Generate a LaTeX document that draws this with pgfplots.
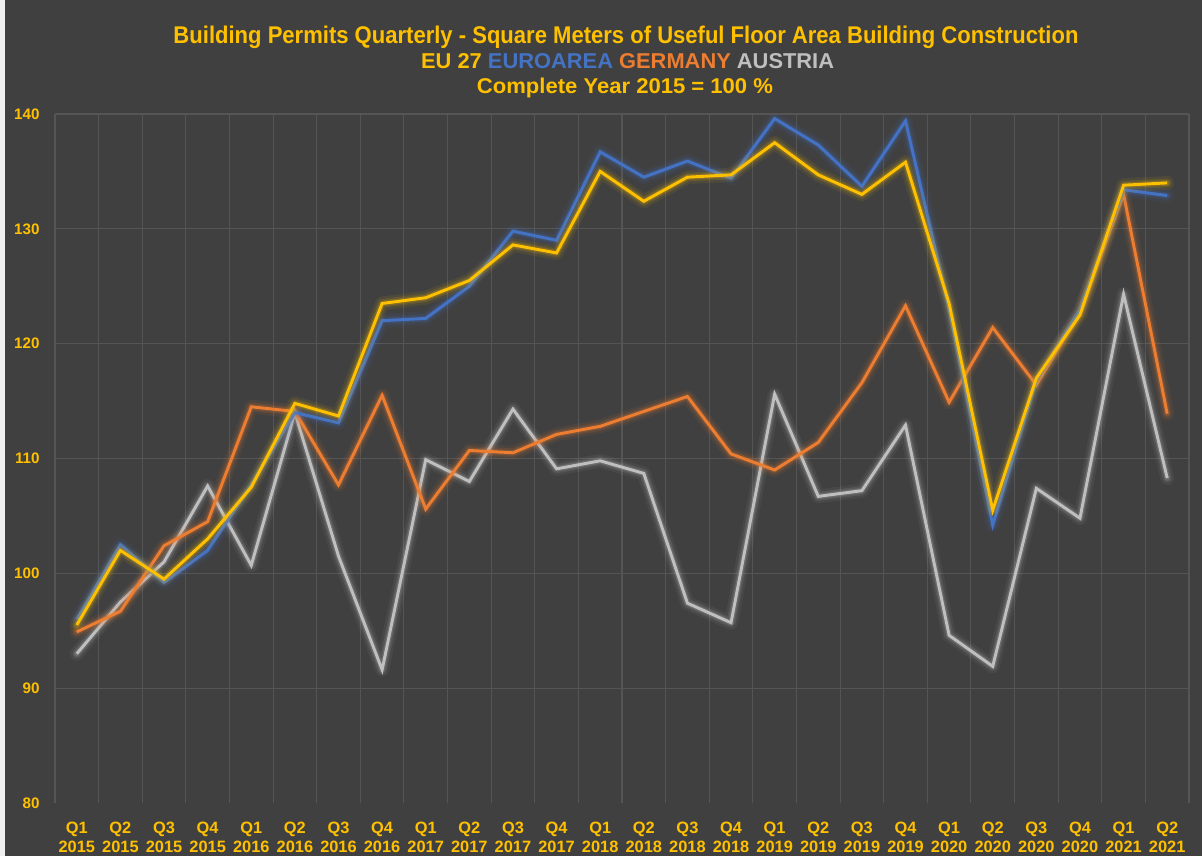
\documentclass[border=0pt]{standalone}
\usepackage{fontspec}
\setmainfont{Liberation Sans}
\usepackage{graphicx}
\usepackage{pgfplots}
\usepackage{pgfplotstable}
\pgfplotsset{compat=1.18}
\definecolor{bg}{HTML}{404040}
\definecolor{gridc}{HTML}{555555}
\definecolor{cy}{HTML}{FFC000}
\definecolor{cb}{HTML}{4472C4}
\definecolor{co}{HTML}{ED7D31}
\definecolor{cg}{HTML}{BFBFBF}

\pgfplotstableread{
x eu ea de at
0  95.5  96.0  94.9  93.0
1  102.0 102.5 96.7  97.5
2  99.5  99.2  102.4 101.0
3  103.0 102.0 104.5 107.6
4  107.5 107.7 114.5 100.7
5  114.8 114.0 114.1 114.0
6  113.7 113.1 107.7 101.5
7  123.5 122.0 115.5 91.6
8  124.0 122.2 105.6 109.9
9  125.5 125.0 110.7 108.0
10 128.6 129.8 110.5 114.3
11 127.9 129.0 112.1 109.1
12 135.0 136.7 112.8 109.8
13 132.4 134.5 114.1 108.7
14 134.5 135.9 115.4 97.4
15 134.7 134.4 110.4 95.7
16 137.5 139.6 109.0 115.6
17 134.7 137.3 111.4 106.7
18 133.0 133.7 116.6 107.2
19 135.8 139.4 123.3 112.9
20 123.5 123.0 114.9 94.6
21 105.5 104.2 121.4 91.9
22 117.0 116.8 116.4 107.4
23 122.5 123.0 122.8 104.8
24 133.8 133.4 133.0 124.3
25 134.0 132.9 113.9 108.3
}\data

\pgfplotsset{
  glowA/.style={#1, line width=7pt, opacity=0.07, line join=round, line cap=round},
  glowB/.style={#1, line width=4.5pt, opacity=0.12, line join=round, line cap=round},
  glowC/.style={#1, line width=2.8pt, opacity=0.2, line join=round, line cap=round},
  mainl/.style={#1, line width=1.45pt, line join=miter},
}

\begin{document}
\begin{tikzpicture}
\fill[bg] (0,0) rectangle (601pt,428pt);
\fill[white!94!black] (0,0) rectangle (2.3pt,428pt);
\node[anchor=base, inner sep=0pt, text=cy] at (313pt,406.4pt)
  {\resizebox{452.5pt}{8.75pt}{\bfseries Building Permits Quarterly - Square Meters of Useful Floor Area Building Construction}};
\node[anchor=base, inner sep=0pt] at (313.8pt,393.9pt)
  {\resizebox{206.5pt}{7.5pt}{\bfseries\textcolor{cy}{EU 27} \textcolor{cb}{EUROAREA} \textcolor{co}{GERMANY} \textcolor{cg}{AUSTRIA}}};
\node[anchor=base, inner sep=0pt, text=cy] at (312.5pt,381.4pt)
  {\resizebox{148pt}{7.75pt}{\bfseries Complete Year 2015 = 100 \%}};
\begin{axis}[
  at={(27.5pt,26.5pt)}, anchor=south west,
  scale only axis, width=567pt, height=344.5pt,
  xmin=-0.5, xmax=25.5, ymin=80, ymax=140,
  axis line style={draw=none},
  xtick={0,...,25},
  xticklabels={{Q1\\2015},{Q2\\2015},{Q3\\2015},{Q4\\2015},
               {Q1\\2016},{Q2\\2016},{Q3\\2016},{Q4\\2016},
               {Q1\\2017},{Q2\\2017},{Q3\\2017},{Q4\\2017},
               {Q1\\2018},{Q2\\2018},{Q3\\2018},{Q4\\2018},
               {Q1\\2019},{Q2\\2019},{Q3\\2019},{Q4\\2019},
               {Q1\\2020},{Q2\\2020},{Q3\\2020},{Q4\\2020},
               {Q1\\2021},{Q2\\2021}},
  minor xtick={-0.5,0.5,...,25.5},
  xminorgrids=true, ymajorgrids=false, xmajorgrids=false,
  extra y ticks={90,100,...,140},
  extra y tick labels={},
  extra y tick style={grid=major},
  grid style={gridc, line width=0.55pt},
  minor grid style={gridc, line width=0.55pt},
  major tick length=0pt, minor tick length=0pt,
  ytick={80,90,...,140},
  /pgf/number format/assume math mode=true,
  xticklabel style={align=center, inner sep=0pt, text=cy,
     font=\bfseries\fontsize{8.2pt}{9.5pt}\selectfont, yshift=-9.5pt},
  yticklabel style={inner sep=0pt, text=cy,
     font=\bfseries\fontsize{7.6pt}{9pt}\selectfont, xshift=-7.5pt},
]
\addplot[glowA=cg] table[x=x,y=at]{\data};
\addplot[glowB=cg] table[x=x,y=at]{\data};
\addplot[glowC=cg] table[x=x,y=at]{\data};
\addplot[mainl=cg] table[x=x,y=at]{\data};
\addplot[glowA=co] table[x=x,y=de]{\data};
\addplot[glowB=co] table[x=x,y=de]{\data};
\addplot[glowC=co] table[x=x,y=de]{\data};
\addplot[mainl=co] table[x=x,y=de]{\data};
\addplot[glowA=cb] table[x=x,y=ea]{\data};
\addplot[glowB=cb] table[x=x,y=ea]{\data};
\addplot[glowC=cb] table[x=x,y=ea]{\data};
\addplot[mainl=cb] table[x=x,y=ea]{\data};
\addplot[glowA=cy] table[x=x,y=eu]{\data};
\addplot[glowB=cy] table[x=x,y=eu]{\data};
\addplot[glowC=cy] table[x=x,y=eu]{\data};
\addplot[mainl=cy] table[x=x,y=eu]{\data};
\end{axis}
\end{tikzpicture}
\end{document}
